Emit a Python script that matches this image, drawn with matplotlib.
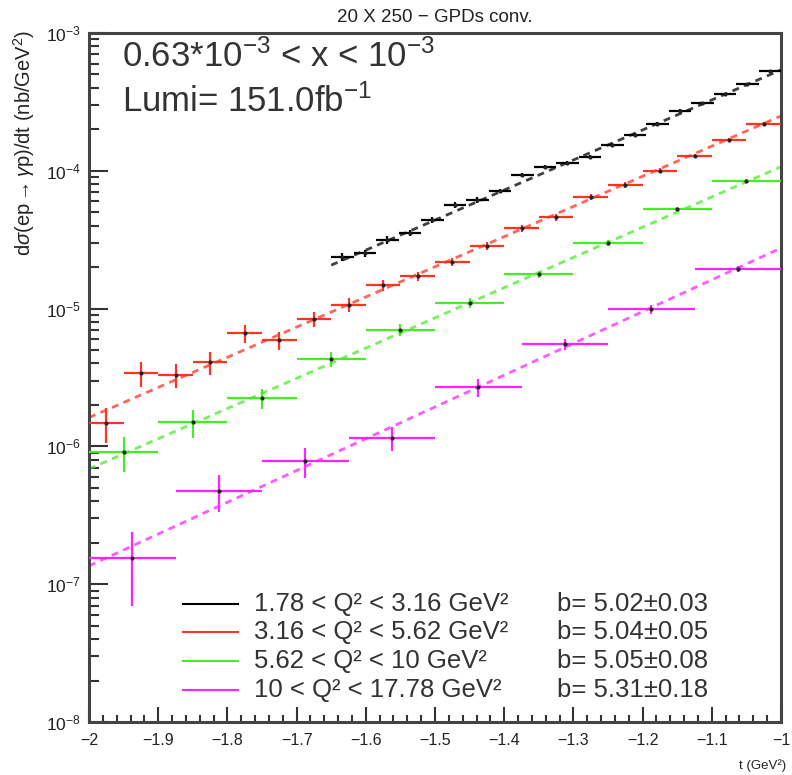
import numpy as np
import matplotlib
matplotlib.use("Agg")
import matplotlib.pyplot as plt
from matplotlib.ticker import LogLocator, MultipleLocator, NullFormatter

plt.rcParams['font.family'] = ['Liberation Sans', 'DejaVu Sans']
plt.rcParams['mathtext.fontset'] = 'custom'
plt.rcParams['mathtext.rm'] = 'Liberation Sans'
plt.rcParams['mathtext.it'] = 'Liberation Sans:italic'
plt.rcParams['mathtext.bf'] = 'Liberation Sans:bold'

# ---------------- data ----------------
black_edges = (-1.65, -1.0)
black_y = [2.37e-5, 2.53e-5, 3.15e-5, 3.54e-5, 4.40e-5, 5.65e-5, 6.14e-5, 7.13e-5,
           9.33e-5, 1.07e-4, 1.14e-4, 1.26e-4, 1.54e-4, 1.82e-4, 2.19e-4, 2.72e-4,
           3.10e-4, 3.61e-4, 4.27e-4, 5.30e-4]
black_rel = [0.07, 0.06, 0.06, 0.05, 0.05, 0.045, 0.045, 0.04, 0.04, 0.035,
             0.035, 0.03, 0.03, 0.03, 0.025, 0.025, 0.025, 0.02, 0.02, 0.02]

red_edges = (-2.0, -1.0)
red_y = [1.48e-6, 3.4e-6, 3.3e-6, 4.1e-6, 6.6e-6, 5.9e-6, 8.4e-6, 1.07e-5, 1.48e-5,
         1.72e-5, 2.18e-5, 2.85e-5, 3.82e-5, 4.6e-5, 6.5e-5, 7.9e-5, 1.0e-4, 1.29e-4,
         1.68e-4, 2.2e-4]
red_rel = [0.28, 0.20, 0.20, 0.19, 0.15, 0.15, 0.12, 0.11, 0.09, 0.08,
           0.07, 0.065, 0.06, 0.055, 0.05, 0.045, 0.04, 0.035, 0.03, 0.03]

green_edges = (-2.0, -1.0)
green_y = [9.1e-7, 1.5e-6, 2.24e-6, 4.3e-6, 7.0e-6, 1.1e-5, 1.78e-5, 2.99e-5, 5.28e-5, 8.43e-5]
green_rel = [0.28, 0.23, 0.17, 0.12, 0.10, 0.08, 0.06, 0.05, 0.04, 0.03]

magenta_edges = (-2.0, -1.0)
magenta_y = [1.55e-7, 4.74e-7, 7.83e-7, 1.15e-6, 2.7e-6, 5.53e-6, 9.9e-6, 1.94e-5]
magenta_rel = [0.55, 0.30, 0.25, 0.20, 0.15, 0.09, 0.07, 0.05]

# fit results: slope b and fitted value at t = -1
fit_b = [5.02, 5.04, 5.05, 5.31]
fit_b_err = [0.03, 0.05, 0.08, 0.18]
fit_at_minus1 = [5.4e-4, 2.5e-4, 1.07e-4, 2.75e-5]
fit_start = [-1.65, -2.0, -2.0, -2.0]

labels = ['1.78 < Q\u00b2 < 3.16 GeV\u00b2',
          '3.16 < Q\u00b2 < 5.62 GeV\u00b2',
          '5.62 < Q\u00b2 < 10 GeV\u00b2',
          '10 < Q\u00b2 < 17.78 GeV\u00b2']
colors = ['#000000', '#ff3322', '#44ee22', '#ff22ff']
xtick_labels = ['\u22122', '\u22121.9', '\u22121.8', '\u22121.7', '\u22121.6', '\u22121.5',
                '\u22121.4', '\u22121.3', '\u22121.2', '\u22121.1', '\u22121']

series = [(black_edges, black_y, black_rel),
          (red_edges, red_y, red_rel),
          (green_edges, green_y, green_rel),
          (magenta_edges, magenta_y, magenta_rel)]

# ---------------- figure ----------------
fig = plt.figure(figsize=(7.92, 7.75), dpi=100)
ax = fig.add_axes([89/792, 1-722/775, (781-89)/792, (722-33)/775])
ax.set_yscale('log')
ax.set_xlim(-2, -1)
ax.set_ylim(1e-8, 1e-3)

for (edges, ys, rel), col, b, y1, t0 in zip(series, colors, fit_b, fit_at_minus1, fit_start):
    n = len(ys)
    w = (edges[1] - edges[0]) / n
    xs = edges[0] + w * (np.arange(n) + 0.5)
    ys = np.array(ys)
    err = ys * np.array(rel)
    tt = np.array([t0, -1.0])
    ax.plot(tt, y1 * np.exp(b * (tt + 1.0)), color=col, lw=2.0, ls=(0, (2.5, 2)),
            alpha=0.75, zorder=2)
    ax.errorbar(xs, ys, xerr=w/2, yerr=err, fmt='none', ecolor=col, elinewidth=1.6,
                capsize=0, zorder=3)
    ax.plot(xs, ys, ls='none', marker='o', ms=2, color='#222222', zorder=4)

# ticks
ax.yaxis.set_major_locator(LogLocator(base=10, numticks=10))
ax.yaxis.set_minor_locator(LogLocator(base=10, subs=np.arange(2, 10), numticks=100))
ax.yaxis.set_minor_formatter(NullFormatter())
ax.set_xticks(np.round(np.arange(-2, -0.99, 0.1), 2))
ax.set_xticklabels(xtick_labels)
ax.xaxis.set_minor_locator(MultipleLocator(0.02))
ax.tick_params(which='both', direction='in', top=False, right=False, colors='#333333',
               labelcolor='#222222')
ax.tick_params(axis='y', which='major', length=14, width=1.5, labelsize=12.5, pad=6)
ax.tick_params(axis='y', which='minor', length=7, width=1.5)
ax.tick_params(axis='x', which='major', length=11, width=1.5, labelsize=11.5, pad=8)
ax.tick_params(axis='x', which='minor', length=5, width=1.5)
for s in ax.spines.values():
    s.set_linewidth(2.2)
    s.set_color('#444444')

# labels
fig.text(435/792, 1-17/775, '20 X 250 \u2212 GPDs conv.', ha='center', va='center',
         fontsize=13.5, color='#222222')
fig.text(786/792, 1-766/775, 't (GeV\u00b2)', ha='right', va='center', fontsize=9.5,
         color='#222222')
fig.text(24/792, 1-30/775, r'd$\sigma$(ep$\rightarrow\gamma$p)/dt (nb/GeV$^{2}$)',
         rotation=90, ha='center', va='top', fontsize=14.5, color='#222222')

fig.text(122/792, 1-67/775, r'0.63$*$10$^{-3}$ < x < 10$^{-3}$', ha='left', va='baseline',
         fontsize=25, color='#333333')
fig.text(122/792, 1-112/775, r'Lumi= 151.0fb$^{-1}$', ha='left', va='baseline',
         fontsize=25, color='#333333')

# legend
rows_y = [604, 632, 661, 690]
for yy, lab, col, b, be in zip(rows_y, labels, colors, fit_b, fit_b_err):
    fy = 1 - yy / 775
    fig.add_artist(plt.Line2D([183/792, 238/792], [fy, fy], color=col, lw=1.5))
    fig.text(254/792, fy, lab, ha='left', va='center', fontsize=18.5, color='#333333')
    fig.text(557/792, fy, 'b= %.2f\u00b1%.2f' % (b, be), ha='left', va='center',
             fontsize=18.5, color='#333333')

fig.savefig('out.png', dpi=100)
